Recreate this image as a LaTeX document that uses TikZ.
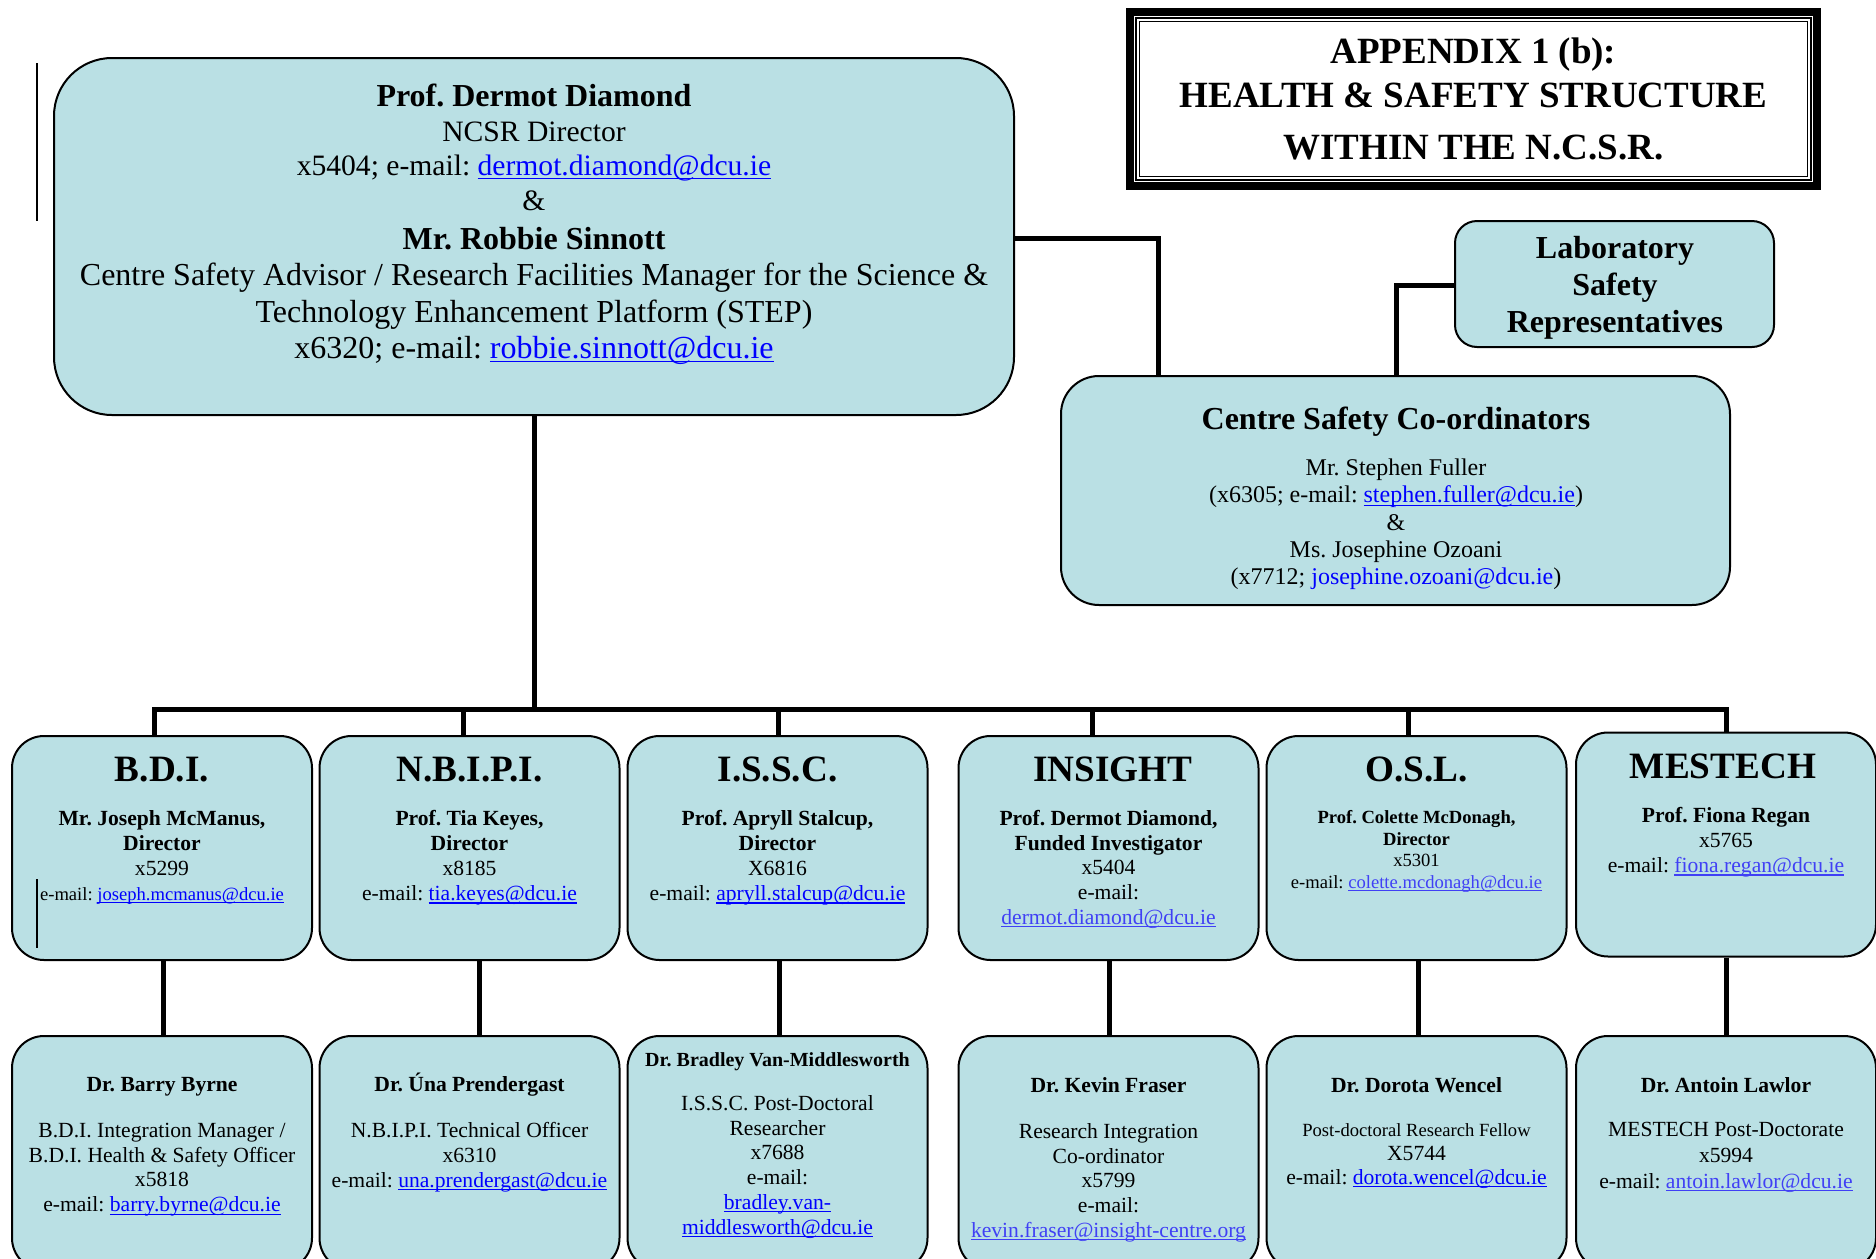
\documentclass[tikz,border=0pt]{standalone}
\usepackage{fontspec}
\setmainfont{Liberation Serif}
\usetikzlibrary{calc}
\definecolor{boxfill}{RGB}{186,224,228}
\definecolor{lnk}{RGB}{0,0,255}
\definecolor{lnkb}{RGB}{64,64,245}
\newcommand{\myul}[1]{\setbox0\hbox{#1}\rlap{\rule[-1.5pt]{\wd0}{0.6pt}}\box0}
\newcommand{\lk}[1]{\textcolor{lnk}{\myul{#1}}}
\newcommand{\lkb}[1]{\textcolor{lnkb}{\myul{#1}}}
\newcommand{\fs}[2]{\fontsize{#1}{#2}\selectfont}
\newcommand{\bsz}[2]{{\fontsize{#1}{18}\selectfont\bfseries #2}}
\frenchspacing
\begin{document}
\frenchspacing
\begin{tikzpicture}[x=0.5pt,y=-0.5pt,
  box/.style={draw=black, line width=1pt, fill=boxfill, rounded corners=16pt, inner sep=0pt},
  mid/.style={box, minimum width=150pt, minimum height=112pt},
  low/.style={box, minimum width=150pt, minimum height=117pt},
  conn/.style={line width=2.5pt, line join=miter},
  txt/.style={align=center, inner sep=0pt, text=black},
  head/.style={anchor=base, inner sep=0pt, font=\fs{18.6}{20}\bfseries},
  body/.style={txt, anchor=north, font=\fs{10.8}{12.5}},
  artifact/.style={line width=0.8pt}
]
\clip (0,0) rectangle (1876,1259);
\fill[white] (0,0) rectangle (1876,1259);

% ---------- boxes ----------
\node[box, rounded corners=29pt, minimum width=480pt, minimum height=178.5pt] (main) at (534,236.5) {};
\node[box, rounded corners=11pt, minimum width=159.5pt, minimum height=63pt] (lab) at (1614.5,284) {};
\node[box, rounded corners=19pt, minimum width=334.5pt, minimum height=114.5pt] (csc) at (1395.5,490.5) {};

\node[mid] (bdi) at (162,848) {};
\node[mid] (nbipi) at (469.5,848) {};
\node[mid] (issc) at (777.5,848) {};
\node[mid] (insight) at (1108.5,848) {};
\node[mid] (osl) at (1416.5,848) {};
\node[mid] (mestech) at (1726,844.5) {};

\node[low] (byrne) at (162,1153) {};
\node[low] (prend) at (469.5,1153) {};
\node[low] (vanm) at (777.5,1153) {};
\node[low] (fraser) at (1108.5,1153) {};
\node[low] (wencel) at (1416.5,1153) {};
\node[low] (lawlor) at (1726,1153) {};

% ---------- title ----------
\node[minimum width=347.5pt, minimum height=91pt, inner sep=0pt] (title) at (1473.5,99) {};
\draw[line width=4pt] ($(title.south west)+(4,-4)$) rectangle ($(title.north east)+(-4,4)$);
\draw[line width=0.7pt] ($(title.south west)+(10.5,-10.5)$) rectangle ($(title.north east)+(-10.5,10.5)$);
\draw[line width=0.6pt] ($(title.south west)+(14,-14)$) rectangle ($(title.north east)+(-14,14)$);
\node[txt, anchor=north, font=\fs{18.5}{22}\bfseries] (titleT) at (1473.5,37)
  {APPENDIX 1 (b):\\ HEALTH \& SAFETY STRUCTURE\\[4pt] WITHIN THE N.C.S.R.};

% ---------- connectors ----------
\coordinate (k1) at (1158,238);
\coordinate (k2) at (1396,285);
\draw[conn] (main.east |- k1) -- (k1) -- (k1 |- csc.north);
\draw[conn] (lab.west |- k2) -- (k2) -- (k2 |- csc.north);

\coordinate (d1) at (154,709);
\coordinate (d2) at (463,709);
\coordinate (d3) at (778,709);
\coordinate (d4) at (1092,709);
\coordinate (d5) at (1408,709);
\coordinate (d6) at (1726,709);
\draw[conn] (main.south) -- (main.south |- d1);
\draw[conn] (bdi.north -| d1) -- (d1) -- (d6) -- (mestech.north -| d6);
\draw[conn] (d2) -- (nbipi.north -| d2);
\draw[conn] (d3) -- (issc.north -| d3);
\draw[conn] (d4) -- (insight.north -| d4);
\draw[conn] (d5) -- (osl.north -| d5);

\coordinate (v1) at (163,0);
\coordinate (v2) at (479,0);
\coordinate (v3) at (779,0);
\coordinate (v4) at (1109,0);
\coordinate (v5) at (1418,0);
\coordinate (v6) at (1726,0);
\draw[conn] (bdi.south -| v1) -- (byrne.north -| v1);
\draw[conn] (nbipi.south -| v2) -- (prend.north -| v2);
\draw[conn] (issc.south -| v3) -- (vanm.north -| v3);
\draw[conn] (insight.south -| v4) -- (fraser.north -| v4);
\draw[conn] (osl.south -| v5) -- (wencel.north -| v5);
\draw[conn] (mestech.south -| v6) -- (lawlor.north -| v6);

% ---------- texts ----------
\node[txt, anchor=north, font=\fs{14.8}{17.2}] (mainT) at (534,84)
  {\bsz{16}{Prof. Dermot Diamond}\\ NCSR Director\\ x5404; e-mail: \lk{dermot.diamond@dcu.ie}\\ \&};
\node[txt, anchor=north, font=\fs{16}{18.3}] (mainU) at (534,226.5)
  {\textbf{Mr. Robbie Sinnott}\\ Centre Safety Advisor / Research Facilities Manager for the Science \&\\
   Technology Enhancement Platform (STEP)\\ x6320; e-mail: \lk{robbie.sinnott@dcu.ie}};

\node[txt, anchor=north, font=\fs{16}{18.5}\bfseries] (labT) at (1615,236)
  {Laboratory\\ Safety\\ Representatives};

\node[txt, anchor=north, font=\fs{12}{13.7}] (cscT) at (1396,407)
  {\bsz{16}{Centre Safety Co-ordinators}\\[9pt] Mr. Stephen Fuller\\ (x6305; e-mail: \lk{stephen.fuller@dcu.ie})\\ \&\\
   Ms. Josephine Ozoani\\ (x7712; \textcolor{lnk}{josephine.ozoani@dcu.ie})};

\node[head] (bdiH) at (162,781) {B.D.I.};
\node[head] (nbipiH) at (469.5,781) {N.B.I.P.I.};
\node[head] (isscH) at (777.5,781) {I.S.S.C.};
\node[head] (insightH) at (1113,781) {INSIGHT};
\node[head] (oslH) at (1416.5,781) {O.S.L.};
\node[head] (mestechH) at (1723,778) {MESTECH};

\node[body] (bdiT) at (162,810)
  {\textbf{Mr. Joseph McManus,}\\ \textbf{Director}\\ x5299\\ {\fs{9.3}{12.5}e-mail: \lk{joseph.mcmanus@dcu.ie}}};
\node[body] (nbipiT) at (469.5,810)
  {\textbf{Prof. Tia Keyes,}\\ \textbf{Director}\\ x8185\\ e-mail: \lk{tia.keyes@dcu.ie}};
\node[body] (isscT) at (777.5,810)
  {\textbf{Prof. Apryll Stalcup,}\\ \textbf{Director}\\ X6816\\ e-mail: \lk{apryll.stalcup@dcu.ie}};
\node[body, font=\fs{10.8}{12.3}] (insightT) at (1108.5,810)
  {\textbf{Prof. Dermot Diamond,}\\ \textbf{Funded Investigator}\\ x5404\\ e-mail:\\ \lkb{dermot.diamond@dcu.ie}};
\node[body, font=\fs{9.3}{10.8}] (oslT) at (1416.5,810)
  {\textbf{Prof. Colette McDonagh,}\\ \textbf{Director}\\ x5301\\ e-mail: \lkb{colette.mcdonagh@dcu.ie}};
\node[body] (mestechT) at (1726,807)
  {\textbf{Prof. Fiona Regan}\\ x5765\\ e-mail: \lkb{fiona.regan@dcu.ie}};

\node[body, font=\fs{10.8}{12.4}] (byrneT) at (162,1077)
  {\textbf{Dr. Barry Byrne}\\[10.5pt] B.D.I. Integration Manager /\\ B.D.I. Health \& Safety Officer\\ x5818\\ e-mail: \lk{barry.byrne@dcu.ie}};
\node[body, font=\fs{10.8}{12.4}] (prendT) at (469.5,1073)
  {\textbf{Dr. Úna Prendergast}\\[10.5pt] N.B.I.P.I. Technical Officer\\ x6310\\ e-mail: \lk{una.prendergast@dcu.ie}};
\node[body, font=\fs{10.8}{12.4}] (vanmT) at (777.5,1052)
  {{\fs{10}{12.4}\bfseries Dr. Bradley Van-Middlesworth}\\[9.6pt] I.S.S.C. Post-Doctoral\\ Researcher\\ x7688\\ e-mail:\\ \lk{bradley.van-}\\ \lk{middlesworth@dcu.ie}};
\node[body, font=\fs{10.8}{12.4}] (fraserT) at (1108.5,1077)
  {\textbf{Dr. Kevin Fraser}\\[10.5pt] Research Integration\\ Co-ordinator\\ x5799\\ e-mail:\\ \lkb{kevin.fraser@insight-centre.org}};
\node[body, font=\fs{10.8}{12}] (wencelT) at (1416.5,1077)
  {\textbf{Dr. Dorota Wencel}\\[10pt] {\fs{9.3}{12}Post-doctoral Research Fellow}\\ X5744\\ e-mail: \lk{dorota.wencel@dcu.ie}};
\node[body, font=\fs{10.8}{13}] (lawlorT) at (1726,1077)
  {\textbf{Dr. Antoin Lawlor}\\[9pt] MESTECH Post-Doctorate\\ x5994\\ e-mail: \lkb{antoin.lawlor@dcu.ie}};

% ---------- stray marks ----------
\draw[artifact] (37,63) -- (37,221);
\draw[artifact] (37,879) -- (37,948);
\end{tikzpicture}
\end{document}
